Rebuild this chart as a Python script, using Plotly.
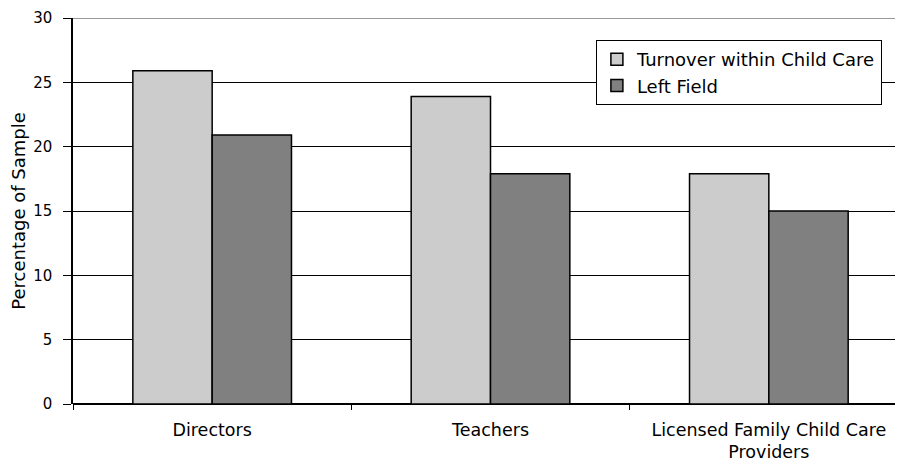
import plotly.graph_objects as go

categories = ['Directors', 'Teachers', 'Licensed Family Child Care<br>Providers']
turnover = [25.9, 23.9, 17.9]
left_field = [20.9, 17.9, 15.0]
y_ticks = [0, 5, 10, 15, 20, 25, 30]

fig = go.Figure()
fig.add_trace(go.Bar(x=categories, y=turnover, name='Turnover within Child Care',
                     marker=dict(color='#cccccc', line=dict(color='black', width=1.5))))
fig.add_trace(go.Bar(x=categories, y=left_field, name='Left Field',
                     marker=dict(color='#808080', line=dict(color='black', width=1.5))))

# grey frame line at the top of the plot area
fig.add_shape(type='line', xref='paper', yref='y', x0=0, x1=1, y0=30, y1=30,
              line=dict(color='#999999', width=2), layer='above')

# the page body adds an 8px offset, so the figure is a little smaller than the window
fig.update_layout(
    width=895, height=455,
    margin=dict(l=65, r=0, t=10, b=59),
    paper_bgcolor='white', plot_bgcolor='white',
    font=dict(family='DejaVu Sans, Liberation Sans, sans-serif', size=18, color='black'),
    barmode='group', bargap=0.43, bargroupgap=0,
    showlegend=True,
    legend=dict(x=0.63, y=0.943, xanchor='left', yanchor='top',
                bgcolor='white', bordercolor='black', borderwidth=1,
                font=dict(size=18), tracegroupgap=0),
)
fig.update_xaxes(range=[-0.5, 2.482], showgrid=False, showline=False, automargin=False,
                 ticks='outside', tickson='boundaries', ticklen=5, tickcolor='black',
                 tickfont=dict(size=17.5), ticklabelstandoff=13)
fig.update_yaxes(range=[0, 30], tickvals=y_ticks, showgrid=True, gridcolor='black', gridwidth=1,
                 showline=True, linecolor='black', linewidth=1.5, zeroline=True,
                 zerolinecolor='black', zerolinewidth=1.5, automargin=False,
                 ticks='outside', ticklen=8, tickcolor='black', tickfont=dict(size=15),
                 ticklabelstandoff=8,
                 title=dict(text='Percentage of Sample', font=dict(size=18), standoff=4))

fig.write_html('out.html')
